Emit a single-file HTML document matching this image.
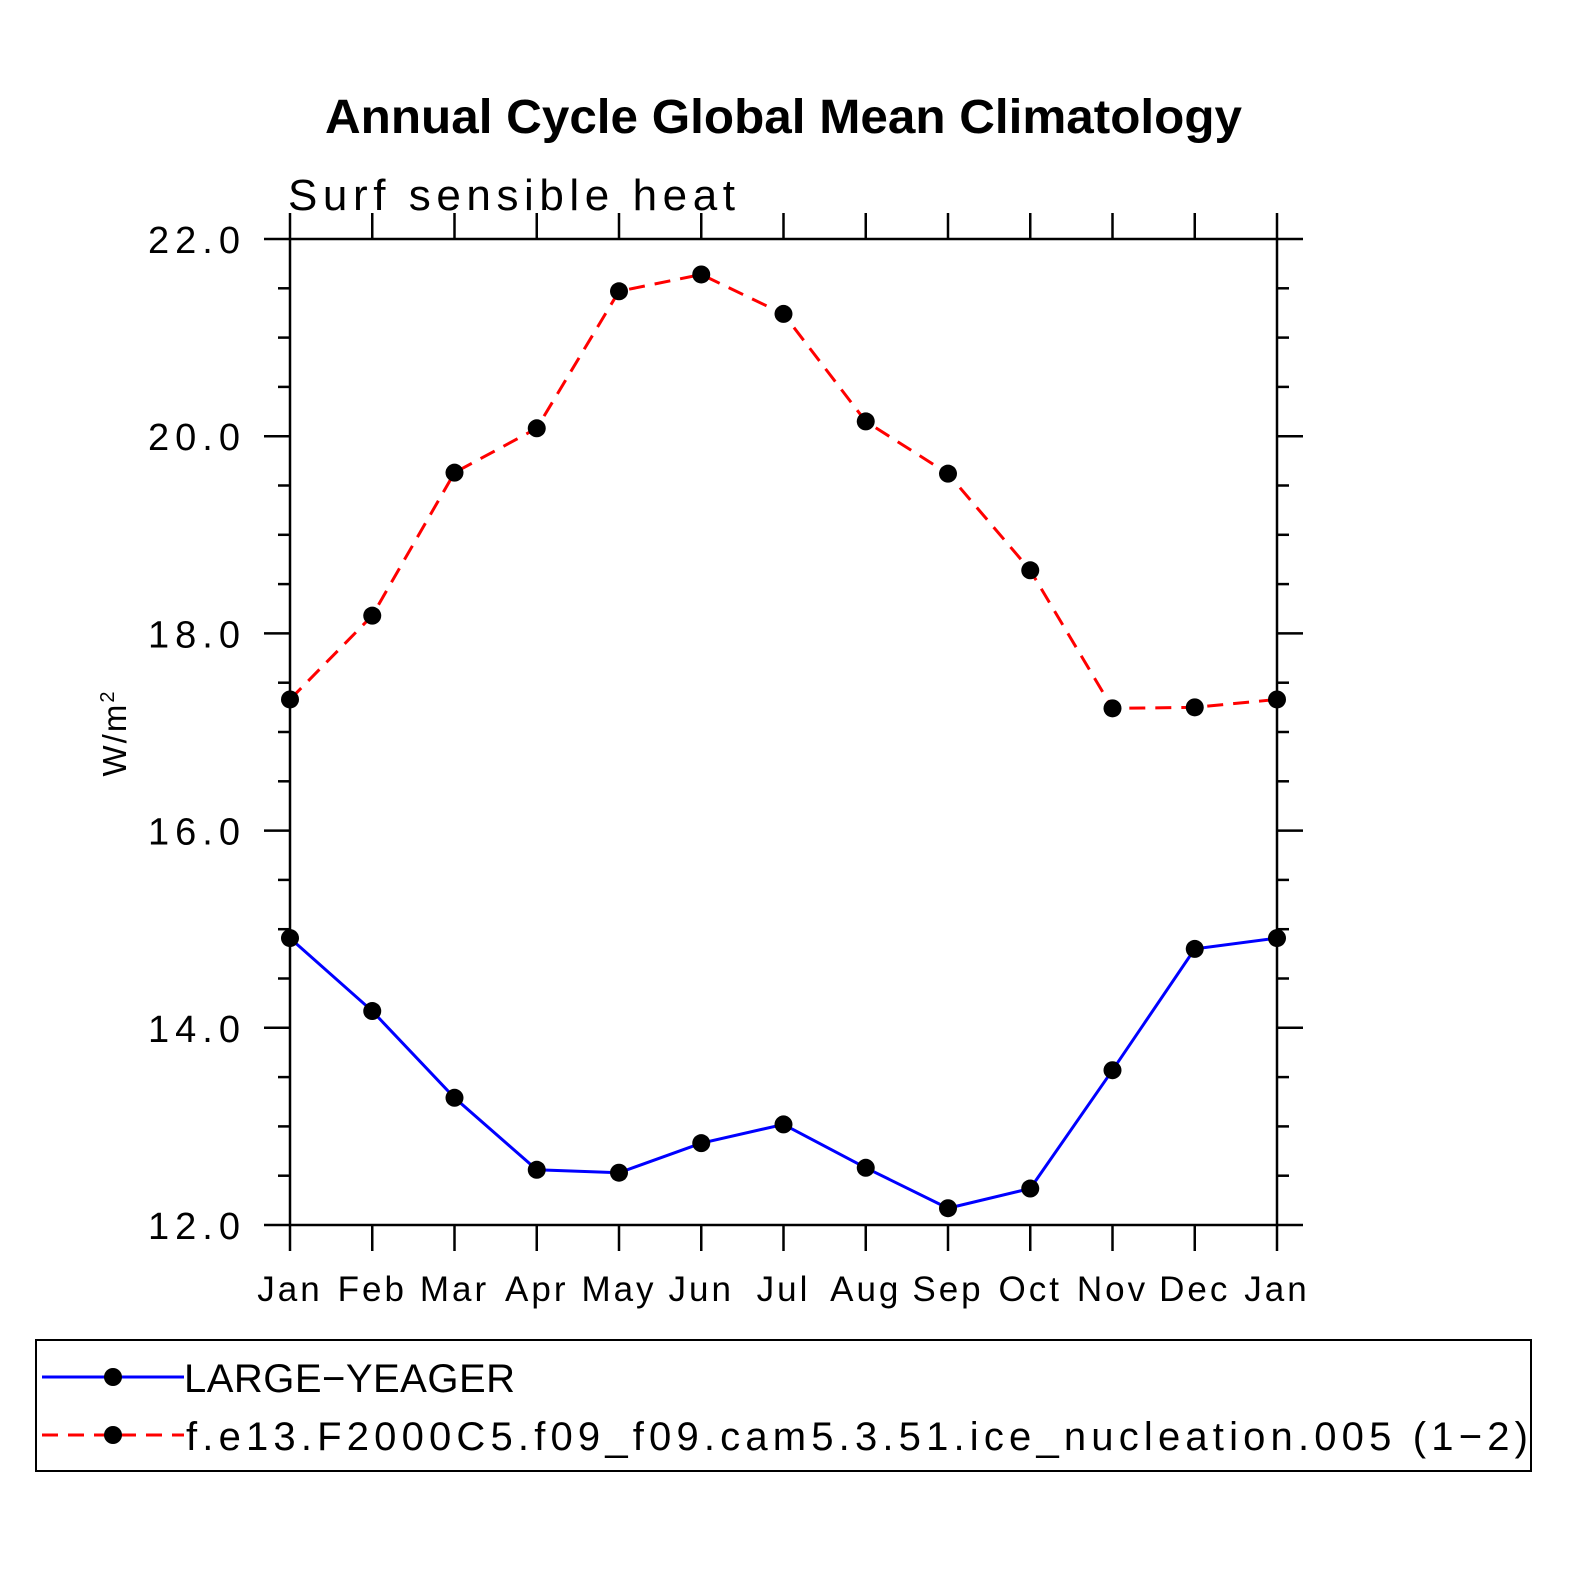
<!DOCTYPE html>
<html><head><meta charset="utf-8"><style>
html,body{margin:0;padding:0;background:#fff;}
svg{display:block;font-family:"Liberation Sans",sans-serif;}
</style></head><body>
<svg id="chart" width="1574" height="1574" viewBox="0 0 1574 1574">
<text x="325" y="133" font-size="48" font-weight="bold" textLength="917" lengthAdjust="spacingAndGlyphs">Annual Cycle Global Mean Climatology</text>
<text x="288" y="210" font-size="44" textLength="447" lengthAdjust="spacing">Surf  sensible  heat</text>
<text transform="translate(126,733) rotate(-90)" text-anchor="middle" font-size="33" letter-spacing="2">W/m<tspan dy="-12" font-size="20">2</tspan></text>
<g id="axes"></g>
<g id="series"></g>
<rect x="36" y="1340" width="1495" height="131" fill="none" stroke="#000" stroke-width="2"/>
<g>
<line x1="42" y1="1377" x2="184" y2="1377" stroke="#00f" stroke-width="3"/>
<circle cx="113" cy="1377" r="9" fill="#000"/>
<text x="184" y="1392" font-size="40" textLength="331" lengthAdjust="spacing">LARGE−YEAGER</text>
</g>
<g>
<line x1="42" y1="1435" x2="184" y2="1435" stroke="#f00" stroke-width="3" stroke-dasharray="16,10"/>
<circle cx="113" cy="1435" r="9" fill="#000"/>
<text x="186" y="1450" font-size="40" textLength="1342" lengthAdjust="spacing">f.e13.F2000C5.f09_f09.cam5.3.51.ice_nucleation.005 (1−2)</text>
</g>
</svg>
<script>
const months = ["Jan","Feb","Mar","Apr","May","Jun","Jul","Aug","Sep","Oct","Nov","Dec","Jan"];
const largeYeager = [14.91,14.17,13.29,12.56,12.53,12.83,13.02,12.58,12.17,12.37,13.57,14.80,14.91];
const iceNucleation = [17.33,18.18,19.63,20.08,21.47,21.64,21.24,20.15,19.62,18.64,17.24,17.25,17.33];
const yTicks = [12,14,16,18,20,22];
const yTickLabels = ["12.0","14.0","16.0","18.0","20.0","22.0"];
const yMin = 12, yMax = 22;

const L=290,R=1277,T=239,B=1225;
const NS="http://www.w3.org/2000/svg";
function xs(i){return L+(R-L)*i/(months.length-1);}
function ys(v){return B-(B-T)*(v-yMin)/(yMax-yMin);}
function mk(tag,attrs,parent){const e=document.createElementNS(NS,tag);for(const k in attrs)e.setAttribute(k,attrs[k]);parent.appendChild(e);return e;}
const axes=document.getElementById('axes');
const frame=mk('rect',{x:L,y:T,width:R-L,height:B-T,fill:'none',stroke:'#000','stroke-width':2.5},axes);


for(let v=yMin;v<=yMax+1e-9;v+=0.5){
  const y=ys(v);const major=Math.abs(v-Math.round(v/2)*2)<1e-9;
  const len=major?26:12;
  mk('line',{x1:L-len,y1:y,x2:L,y2:y,stroke:'#000','stroke-width':2.5},axes);
  mk('line',{x1:R,y1:y,x2:R+len,y2:y,stroke:'#000','stroke-width':2.5},axes);
}
yTicks.forEach((v,i)=>{
  const t=mk('text',{x:148,y:ys(v)+14,'font-size':38,textLength:92,lengthAdjust:'spacing'},axes);
  t.textContent=yTickLabels[i];
  
  
});
months.forEach((m,i)=>{
  const x=xs(i);
  mk('line',{x1:x,y1:T-26,x2:x,y2:T,stroke:'#000','stroke-width':2.5},axes);
  mk('line',{x1:x,y1:B,x2:x,y2:B+26,stroke:'#000','stroke-width':2.5},axes);
  const t=mk('text',{x:x,y:1301,'text-anchor':'middle','font-size':35,'letter-spacing':3},axes);
  t.textContent=m;
  
  
});
const ser=document.getElementById('series');
function draw(vals,color,dash,name){
  const g=mk('g',{},ser);
  
  
  const p=mk('polyline',{points:vals.map((v,i)=>xs(i)+','+ys(v)).join(' '),fill:'none',stroke:color,'stroke-width':3},g);
  if(dash)p.setAttribute('stroke-dasharray',dash);
  vals.forEach((v,i)=>{
    const c=mk('circle',{cx:xs(i),cy:ys(v),r:9,fill:'#000'},g);
    
    
  });
}
draw(largeYeager,'#00f',null,'series-large-yeager');
draw(iceNucleation,'#f00','16,10','series-ice-nucleation');
</script>
</body></html>
